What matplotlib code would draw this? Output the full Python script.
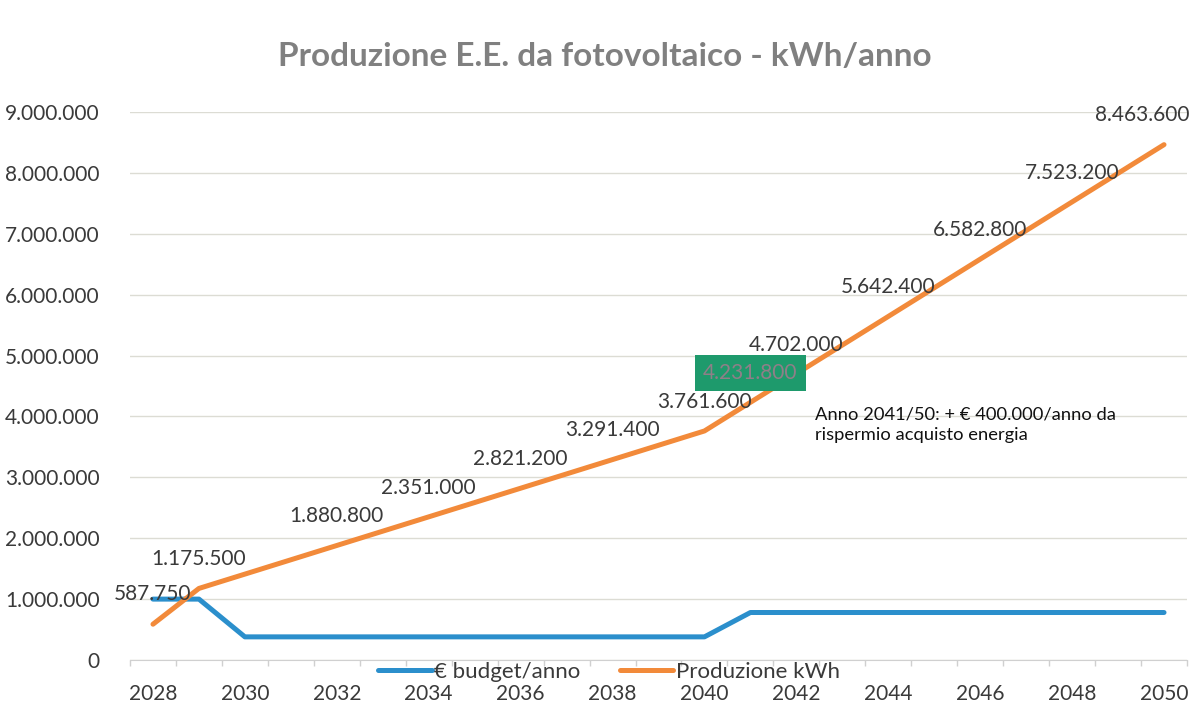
import matplotlib
matplotlib.use("Agg")
import matplotlib.pyplot as plt
from matplotlib.ticker import FuncFormatter, MultipleLocator

plt.rcParams['font.family'] = ['Lato', 'DejaVu Sans']

years = list(range(2028, 2051))
budget = [1000000, 1000000] + [380000] * 11 + [780000] * 10
produzione = [587750, 1175500, 1410600, 1645700, 1880800, 2115900, 2351000,
              2586100, 2821200, 3056300, 3291400, 3526500, 3761600, 4231800,
              4702000, 5172200, 5642400, 6112600, 6582800, 7053000, 7523200,
              7993400, 8463600]
labelled_years = [2028, 2029, 2032, 2034, 2036, 2038, 2040, 2041, 2042,
                  2044, 2046, 2048, 2050]
xtick_years = list(range(2028, 2051, 2))
title = "Produzione E.E. da fotovoltaico - kWh/anno"
note = "Anno 2041/50: + € 400.000/anno da\nrispermio acquisto energia"

BLUE = "#2b8fcc"
ORANGE = "#f28a3a"
TXT = "#3a3a3a"

def fmt(v):
    return f"{int(round(v)):,}".replace(",", ".")

fig = plt.figure(figsize=(11.92, 7.06), dpi=100)
ax = fig.add_axes([130/1192, 46/706, (1187-130)/1192, (660-112)/706])

ax.plot(years, budget, color=BLUE, lw=3.6, solid_capstyle='round',
        solid_joinstyle='round', label="€ budget/anno", zorder=3)
ax.plot(years, produzione, color=ORANGE, lw=3.6, solid_capstyle='round',
        solid_joinstyle='round', label="Produzione kWh", zorder=3)

ax.set_xlim(2027.5, 2050.5)
ax.set_ylim(0, 9000000)
ax.yaxis.set_major_locator(MultipleLocator(1000000))
ax.yaxis.set_major_formatter(FuncFormatter(lambda v, p: fmt(v)))
ax.set_xticks(xtick_years)
ax.set_xticklabels([str(y) for y in xtick_years])
ax.set_xticks([y + 0.5 for y in range(2027, 2051)], minor=True)
ax.tick_params(axis='x', which='major', length=0, pad=17, labelsize=15, labelcolor=TXT)
ax.tick_params(axis='x', which='minor', length=4, color="#d0d0d0", width=1)
ax.tick_params(axis='y', length=0, pad=22, labelsize=15, labelcolor=TXT)
ax.grid(axis='y', color="#dcdcd4", lw=1, zorder=0)
for s in ['top', 'right', 'left']:
    ax.spines[s].set_visible(False)
ax.spines['bottom'].set_color("#d0d0d0")

for y, v in zip(years, produzione):
    if y not in labelled_years:
        continue
    dx = 0
    dy = 21
    if y == 2028:
        dy = 22
    elif y == 2050:
        dx = -16
    kw = {}
    color = TXT
    if y == 2041:
        kw['bbox'] = dict(boxstyle="square,pad=0.4", fc="#1e9a6c", ec="none")
        color = "#8f7f88"
    ax.annotate(fmt(v), (y, v), xytext=(dx, dy), textcoords='offset points',
                ha='center', va='center', fontsize=15, color=color,
                annotation_clip=False, zorder=5, **kw)

fig.text(815/1192, 1 - 425/706, note, fontsize=13.2, color="#111111",
         ha='left', va='center', linespacing=1.35)

fig.text(605/1192, 1 - 57/706, title, fontsize=24, fontweight='bold',
         color="#808080", ha='center', va='center')

fig.legend(loc='center', bbox_to_anchor=(609/1192, 1 - 672/706), ncol=2,
           frameon=False, fontsize=16, handlelength=2.4, handletextpad=0.1,
           columnspacing=1.8, labelcolor=TXT)

fig.savefig("out.png", dpi=100, facecolor="white")
